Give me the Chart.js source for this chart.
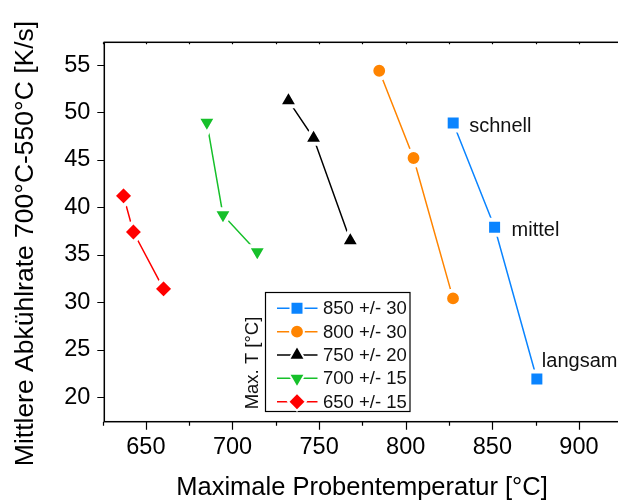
<!DOCTYPE html>
<html>
<head>
<meta charset="utf-8">
<script src="https://cdn.jsdelivr.net/npm/chart.js@4/dist/chart.umd.min.js"></script>
<style>
    html, body { margin: 0; padding: 0; background: #fff; }
    #wrap { width: 618px; height: 500px; overflow: hidden; position: relative; }
    #chart { display: block; }
</style>
</head>
<body>
<div id="wrap"><canvas id="chart" width="640" height="500"></canvas></div>
<script>
/** Data */
const seriesNames = ['850 +/- 30', '800 +/- 30', '750 +/- 20', '700 +/- 15', '650 +/- 15'];

const tempX850 = [827.4, 851.3, 875.7];
const rateY850 = [48.9, 37.9, 21.9];
const tempX800 = [784.7, 804.5, 827.3];
const rateY800 = [54.4, 45.2, 30.4];
const tempX750 = [732.3, 746.8, 768.0];
const rateY750 = [51.25, 47.3, 36.5];
const tempX700 = [685.2, 694.5, 714.3];
const rateY700 = [48.95, 39.2, 35.3];
const tempX650 = [637.1, 642.8, 660.2];
const rateY650 = [41.2, 37.4, 31.4];

const speedLabels = ['schnell', 'mittel', 'langsam'];

const xTicks = [650, 700, 750, 800, 850, 900];
const xMinorTicks = [625, 675, 725, 775, 825, 875, 925];
const yTicks = [20, 25, 30, 35, 40, 45, 50, 55];

const xTitle = 'Maximale Probentemperatur [°C]';
const yTitle = 'Mittlere Abkühlrate 700°C-550°C [K/s]';
const legendTitle = 'Max. T [°C]';

/** Styles */
const FONT = '"Liberation Sans", Arial, sans-serif';
const styles = [
    { color: '#0a84ff', pointStyle: 'rect', radius: 10.6, rotation: 0 },
    { color: '#ff8400', pointStyle: 'circle', radius: 7.9, rotation: 0 },
    { color: '#000000', pointStyle: 'triangle', radius: 11.4, rotation: 0 },
    { color: '#16c02a', pointStyle: 'triangle', radius: 11.4, rotation: 180 },
    { color: '#ff0000', pointStyle: 'rectRot', radius: 10.3, rotation: 0 }
];
const GAP = 4;
// legend markers sit closer to their line
const LEGEND_GAP = 2;
// offsets of the speed labels from the blue points
const speedLabelOffsets = [[16, 9], [17, 9], [5, -12]];

let toPoints = function (xs, ys) {
    return xs.map((x, i) => ({ x: x, y: ys[i] }));
};

const seriesData = [
    toPoints(tempX850, rateY850),
    toPoints(tempX800, rateY800),
    toPoints(tempX750, rateY750),
    toPoints(tempX700, rateY700),
    toPoints(tempX650, rateY650)
];

let datasets = seriesData.map((data, i) => ({
    label: seriesNames[i],
    data: data,
    showLine: true,
    borderColor: styles[i].color,
    borderWidth: 1.5,
    pointStyle: styles[i].pointStyle,
    pointRotation: styles[i].rotation,
    pointRadius: styles[i].radius,
    pointBackgroundColor: styles[i].color,
    pointBorderColor: '#ffffff',
    pointBorderWidth: GAP,
    tension: 0
}));

/** Frame, ticks, titles, labels and legend */
let Local = {
    frame: function (chart) {
        const ctx = chart.ctx;
        const a = chart.chartArea;
        const xs = chart.scales.x;
        const ys = chart.scales.y;
        ctx.save();
        ctx.strokeStyle = '#000';
        ctx.lineWidth = 1.5;
        ctx.strokeRect(a.left, a.top, a.right - a.left, a.bottom - a.top);
        ctx.lineWidth = 1.2;
        ctx.beginPath();
        xTicks.forEach(v => {
            const px = Math.round(xs.getPixelForValue(v)) + 0.5;
            ctx.moveTo(px, a.bottom); ctx.lineTo(px, a.bottom + 8);
            ctx.moveTo(px, a.top); ctx.lineTo(px, a.top + 2);
        });
        xMinorTicks.forEach(v => {
            const px = Math.round(xs.getPixelForValue(v)) + 0.5;
            ctx.moveTo(px, a.bottom); ctx.lineTo(px, a.bottom + 4);
            ctx.moveTo(px, a.top); ctx.lineTo(px, a.top + 2);
        });
        yTicks.forEach(v => {
            const py = Math.round(ys.getPixelForValue(v)) + 0.5;
            ctx.moveTo(a.left, py); ctx.lineTo(a.left - 7, py);
        });
        ctx.stroke();
        ctx.restore();
    },
    titles: function (chart) {
        const ctx = chart.ctx;
        ctx.save();
        ctx.fillStyle = '#000';
        ctx.textAlign = 'center';
        ctx.textBaseline = 'alphabetic';
        ctx.font = '25.5px ' + FONT;
        ctx.fillText(xTitle, 362, 495);
        ctx.font = '26.5px ' + FONT;
        ctx.translate(33, 243.5);
        ctx.rotate(-Math.PI / 2);
        ctx.fillText(yTitle, 0, 0);
        ctx.restore();
    },
    speedLabels: function (chart) {
        const ctx = chart.ctx;
        const meta = chart.getDatasetMeta(0);
        ctx.save();
        ctx.fillStyle = '#111';
        ctx.font = '20px ' + FONT;
        ctx.textAlign = 'left';
        ctx.textBaseline = 'alphabetic';
        meta.data.forEach((pt, i) => {
            ctx.fillText(speedLabels[i], pt.x + speedLabelOffsets[i][0], pt.y + speedLabelOffsets[i][1]);
        });
        ctx.restore();
    },
    legend: function (chart) {
        const ctx = chart.ctx;
        const box = { left: 265.5, top: 292.5, width: 144.5, height: 119 };
        const rowTop = 308.3;
        const rowStep = 23.35;
        const lineX0 = 277;
        const lineX1 = 317.5;
        const markX = 297;
        ctx.save();
        ctx.fillStyle = '#fff';
        ctx.fillRect(box.left, box.top, box.width, box.height);
        ctx.strokeStyle = '#000';
        ctx.lineWidth = 1.2;
        ctx.strokeRect(box.left, box.top, box.width, box.height);

        seriesNames.forEach((name, i) => {
            const y = rowTop + i * rowStep;
            const st = styles[i];
            ctx.strokeStyle = st.color;
            ctx.lineWidth = 1.5;
            ctx.beginPath();
            ctx.moveTo(lineX0, y); ctx.lineTo(lineX1, y);
            ctx.stroke();
            // shrink the radius by the part of the white ring that is not drawn
            let shrink = (GAP - LEGEND_GAP) / 2;
            if (st.pointStyle === 'rect') shrink = shrink / Math.SQRT1_2;
            if (st.pointStyle === 'triangle') shrink = shrink * 2;
            if (st.pointStyle === 'rectRot') shrink = shrink * Math.SQRT2;
            ctx.fillStyle = st.color;
            ctx.strokeStyle = '#fff';
            ctx.lineWidth = LEGEND_GAP;
            Chart.helpers.drawPoint(ctx, {
                pointStyle: st.pointStyle,
                rotation: st.rotation,
                radius: st.radius - shrink,
                borderWidth: LEGEND_GAP
            }, markX, y);
            ctx.fillStyle = '#111';
            ctx.font = '18.5px ' + FONT;
            ctx.textAlign = 'left';
            ctx.textBaseline = 'middle';
            ctx.fillText(name, 323, y + 1);
        });

        ctx.fillStyle = '#111';
        ctx.font = '18.5px ' + FONT;
        ctx.textAlign = 'center';
        ctx.textBaseline = 'alphabetic';
        ctx.translate(258, 363);
        ctx.rotate(-Math.PI / 2);
        ctx.fillText(legendTitle, 0, 0);
        ctx.restore();
    }
};

const decorations = {
    id: 'decorations',
    beforeDatasetsDraw: function (chart) {
        Local.frame(chart);
        Local.titles(chart);
    },
    afterDatasetsDraw: function (chart) {
        Local.speedLabels(chart);
        Local.legend(chart);
    }
};

new Chart(document.getElementById('chart'), {
    type: 'line',
    data: { datasets: datasets },
    plugins: [decorations],
    options: {
        responsive: false,
        animation: false,
        events: [],
        layout: { padding: { top: 42.3, right: 16, left: 0, bottom: 0 } },
        plugins: {
            legend: { display: false },
            tooltip: { enabled: false }
        },
        scales: {
            x: {
                type: 'linear',
                min: 626,
                max: 926,
                grid: { display: false, drawTicks: false },
                border: { display: false },
                afterBuildTicks: function (scale) {
                    scale.ticks = xTicks.map(v => ({ value: v }));
                },
                afterFit: function (scale) {
                    scale.height = 78.3;
                },
                ticks: {
                    padding: 12,
                    color: '#000',
                    font: { family: FONT, size: 23.5 },
                    maxRotation: 0
                }
            },
            y: {
                type: 'linear',
                min: 17.4,
                max: 57.4,
                grid: { display: false, drawTicks: false },
                border: { display: false },
                afterBuildTicks: function (scale) {
                    scale.ticks = yTicks.map(v => ({ value: v }));
                },
                afterFit: function (scale) {
                    scale.width = 104.3;
                },
                ticks: {
                    padding: 14,
                    color: '#000',
                    font: { family: FONT, size: 23.5 }
                }
            }
        }
    }
});
</script>
</body>
</html>
